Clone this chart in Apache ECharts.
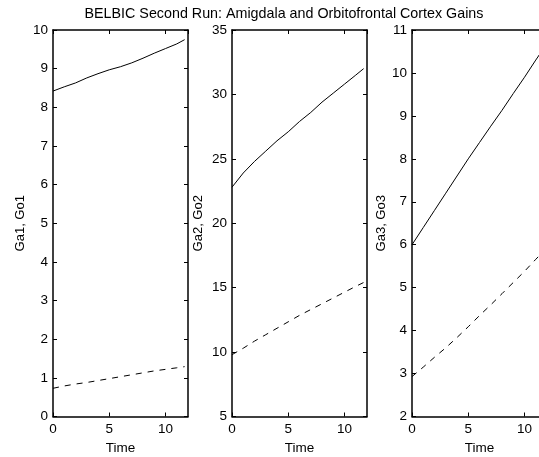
<!DOCTYPE html>
<html>
<head>
<meta charset="utf-8">
<script src="https://cdn.jsdelivr.net/npm/echarts@6/dist/echarts.min.js"></script>
<style>
html,body{margin:0;padding:0;background:#fff;}
#chart{width:539px;height:457px;}
</style>
</head>
<body>
<div id="chart"></div>
<script>
var titleText = 'BELBIC Second Run: Amigdala and Orbitofrontal Cortex Gains';
var time = [0, 1, 2, 3, 4, 5, 6, 7, 8, 9, 10, 11, 11.7];
var ga1 = [8.42, 8.53, 8.63, 8.76, 8.87, 8.97, 9.05, 9.15, 9.27, 9.40, 9.52, 9.64, 9.75];
var go1 = [0.73, 0.79, 0.84, 0.88, 0.93, 0.98, 1.03, 1.08, 1.13, 1.18, 1.22, 1.26, 1.29];
var ga2 = [22.8, 23.9, 24.8, 25.6, 26.4, 27.1, 27.9, 28.6, 29.4, 30.1, 30.8, 31.5, 32.0];
var go2 = [9.8, 10.3, 10.85, 11.35, 11.85, 12.35, 12.85, 13.3, 13.75, 14.2, 14.65, 15.1, 15.4];
var ga3 = [6.0, 6.4, 6.8, 7.2, 7.6, 8.0, 8.38, 8.76, 9.13, 9.52, 9.9, 10.3, 10.57];
var go3 = [2.93, 3.15, 3.38, 3.6, 3.84, 4.09, 4.35, 4.6, 4.86, 5.12, 5.38, 5.66, 5.85];
var yNames = ['Ga1, Go1', 'Ga2, Go2', 'Ga3, Go3'];
var yMins = [0, 5, 2];
var yMaxs = [10, 35, 11];
var yIntervals = [1, 5, 1];
var xName = 'Time';

var FONT = 'Liberation Sans, Arial, Helvetica, sans-serif';
var gridLefts = [53, 232, 412];
var nameGaps = [26, 27.5, 19.5];
function pairs(xs, ys){ return xs.map(function(x,i){ return [x, ys[i]]; }); }
var grids = [], xAxes = [], yAxes = [], series = [];
var solids = [ga1, ga2, ga3], dashes = [go1, go2, go3];
var lineStyleAxis = {color:'#000', width:1.5};
var tickStyle = {color:'#000', width:1};
for (var g = 0; g < 3; g++) {
  grids.push({left: gridLefts[g], top: 30, width: 135, height: 386.5, containLabel:false, outerBoundsMode:'none'});
  xAxes.push({type:'value', gridIndex:g, min:0, max:12, interval:5, position:'bottom',
    name:xName, nameLocation:'middle', nameGap:24,
    nameTextStyle:{color:'#000', fontSize:13.5, fontFamily:FONT},
    axisLine:{show:true, onZero:false, lineStyle:lineStyleAxis},
    axisTick:{inside:true, length:4, lineStyle:tickStyle},
    axisLabel:{color:'#000', fontSize:13.5, fontFamily:FONT, margin:6, showMaxLabel:false},
    splitLine:{show:false}});
  xAxes.push({type:'value', gridIndex:g, min:0, max:12, interval:5, position:'top',
    axisLine:{show:true, onZero:false, lineStyle:lineStyleAxis},
    axisTick:{inside:true, length:4, lineStyle:tickStyle},
    axisLabel:{show:false}, splitLine:{show:false}});
  yAxes.push({type:'value', gridIndex:g, min:yMins[g], max:yMaxs[g], interval:yIntervals[g], position:'left',
    name:yNames[g], nameLocation:'middle', nameGap:nameGaps[g], nameRotate:90,
    nameTextStyle:{color:'#000', fontSize:13, fontFamily:FONT},
    axisLine:{show:true, onZero:false, lineStyle:lineStyleAxis},
    axisTick:{inside:true, length:4, lineStyle:tickStyle},
    axisLabel:{color:'#000', fontSize:13.5, fontFamily:FONT, margin:5},
    splitLine:{show:false}});
  yAxes.push({type:'value', gridIndex:g, min:yMins[g], max:yMaxs[g], interval:yIntervals[g], position:'right',
    axisLine:{show:true, onZero:false, lineStyle:lineStyleAxis},
    axisTick:{inside:true, length:4, lineStyle:tickStyle},
    axisLabel:{show:false}, splitLine:{show:false}});
  series.push({type:'line', xAxisIndex:2*g, yAxisIndex:2*g, data:pairs(time, solids[g]),
    showSymbol:false, symbol:'none', animation:false, lineStyle:{color:'#000', width:1}});
  series.push({type:'line', xAxisIndex:2*g, yAxisIndex:2*g, data:pairs(time, dashes[g]),
    showSymbol:false, symbol:'none', animation:false, lineStyle:{color:'#000', width:1, type:[6,6]}});
}
var chart = echarts.init(document.getElementById('chart'), null, {renderer:'canvas'});
chart.setOption({
  backgroundColor:'#fff',
  animation:false,
  graphic:[{type:'text', x:284, y:14, style:{text:titleText, fill:'#000', font:'14.3px ' + FONT, textAlign:'center', textVerticalAlign:'middle'}}],
  grid:grids, xAxis:xAxes, yAxis:yAxes, series:series
});
</script>
</body>
</html>
